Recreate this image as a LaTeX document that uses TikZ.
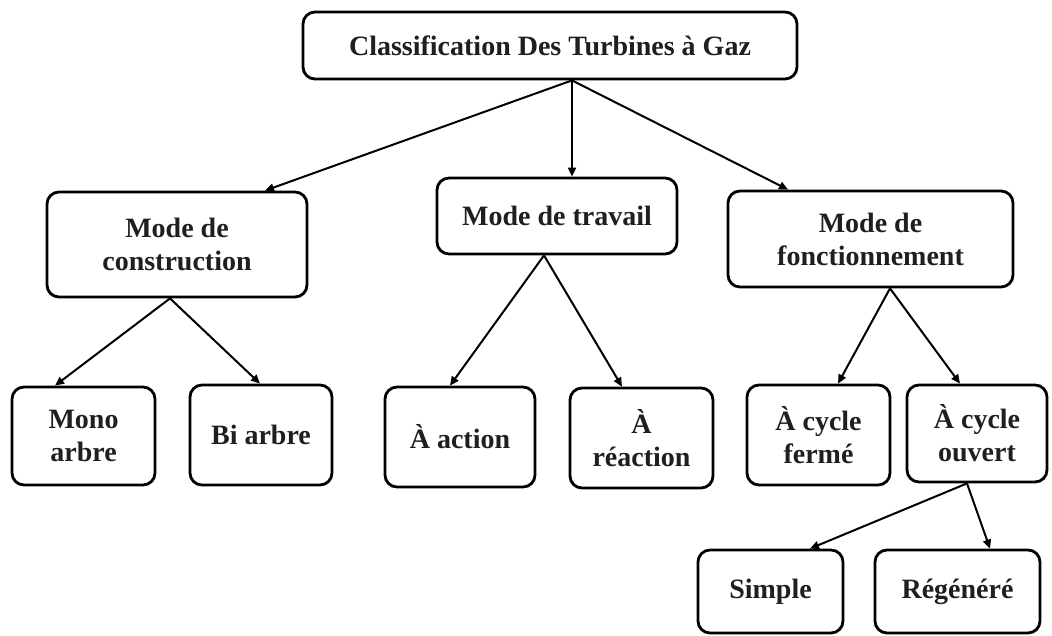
\documentclass[tikz,border=0pt]{standalone}
\usepackage{fontspec}
\setmainfont{Liberation Serif}
\usetikzlibrary{arrows.meta}
\begin{document}
\begin{tikzpicture}[x=1pt,y=-1pt,
  box/.style={draw=black, line width=2.8pt, rounded corners=12pt, align=center,
    font=\fontsize{28}{33}\selectfont\bfseries, text=black!88, inner sep=0pt},
  arr/.style={line width=2pt, -{Triangle[length=9pt,width=8pt]}}]
\useasboundingbox (0,0) rectangle (1052,635);
\node[box, minimum width=494, minimum height=67] (top) at (550,45.5) {Classification Des Turbines à Gaz};
\node[box, minimum width=260, minimum height=105] (cons) at (177,244.5) {Mode de\\construction};
\node[box, minimum width=240, minimum height=76] (trav) at (557,216) {Mode de travail};
\node[box, minimum width=285, minimum height=96] (fonc) at (870.5,239) {Mode de\\fonctionnement};
\node[box, minimum width=143, minimum height=98] (mono) at (83.5,436) {Mono\\arbre};
\node[box, minimum width=142, minimum height=100] (bi) at (261,435) {Bi arbre};
\node[box, minimum width=150, minimum height=100] (act) at (460,437) {À action};
\node[box, minimum width=143, minimum height=100] (reac) at (641.5,438) {À\\réaction};
\node[box, minimum width=143, minimum height=100] (ferme) at (818.5,435) {À cycle\\fermé};
\node[box, minimum width=140, minimum height=97] (ouvert) at (977,433.5) {À cycle\\ouvert};
\node[box, minimum width=145, minimum height=83] (simple) at (770.5,591.5) {Simple};
\node[box, minimum width=165, minimum height=83] (regen) at (957.5,591.5) {Régénéré};
% connectors
\draw[arr] ([xshift=22pt]top.south) -- ([xshift=88pt]cons.north);
\draw[arr] ([xshift=22pt]top.south) -- ([xshift=15pt]trav.north);
\draw[arr] ([xshift=22pt]top.south) -- ([xshift=-82.5pt]fonc.north);
\draw[arr] ([xshift=-7pt]cons.south) -- ([xshift=-28.5pt]mono.north);
\draw[arr] ([xshift=-7pt]cons.south) -- ([xshift=-1pt]bi.north);
\draw[arr] ([xshift=-13pt]trav.south) -- ([xshift=-10pt]act.north);
\draw[arr] ([xshift=-13pt]trav.south) -- ([xshift=-19.5pt]reac.north);
\draw[arr] ([xshift=19.5pt]fonc.south) -- ([xshift=19.5pt]ferme.north);
\draw[arr] ([xshift=19.5pt]fonc.south) -- ([xshift=-17pt]ouvert.north);
\draw[arr] ([xshift=-10pt]ouvert.south) -- ([xshift=39.5pt]simple.north);
\draw[arr] ([xshift=-10pt]ouvert.south) -- ([xshift=32.5pt]regen.north);
\end{tikzpicture}
\end{document}
